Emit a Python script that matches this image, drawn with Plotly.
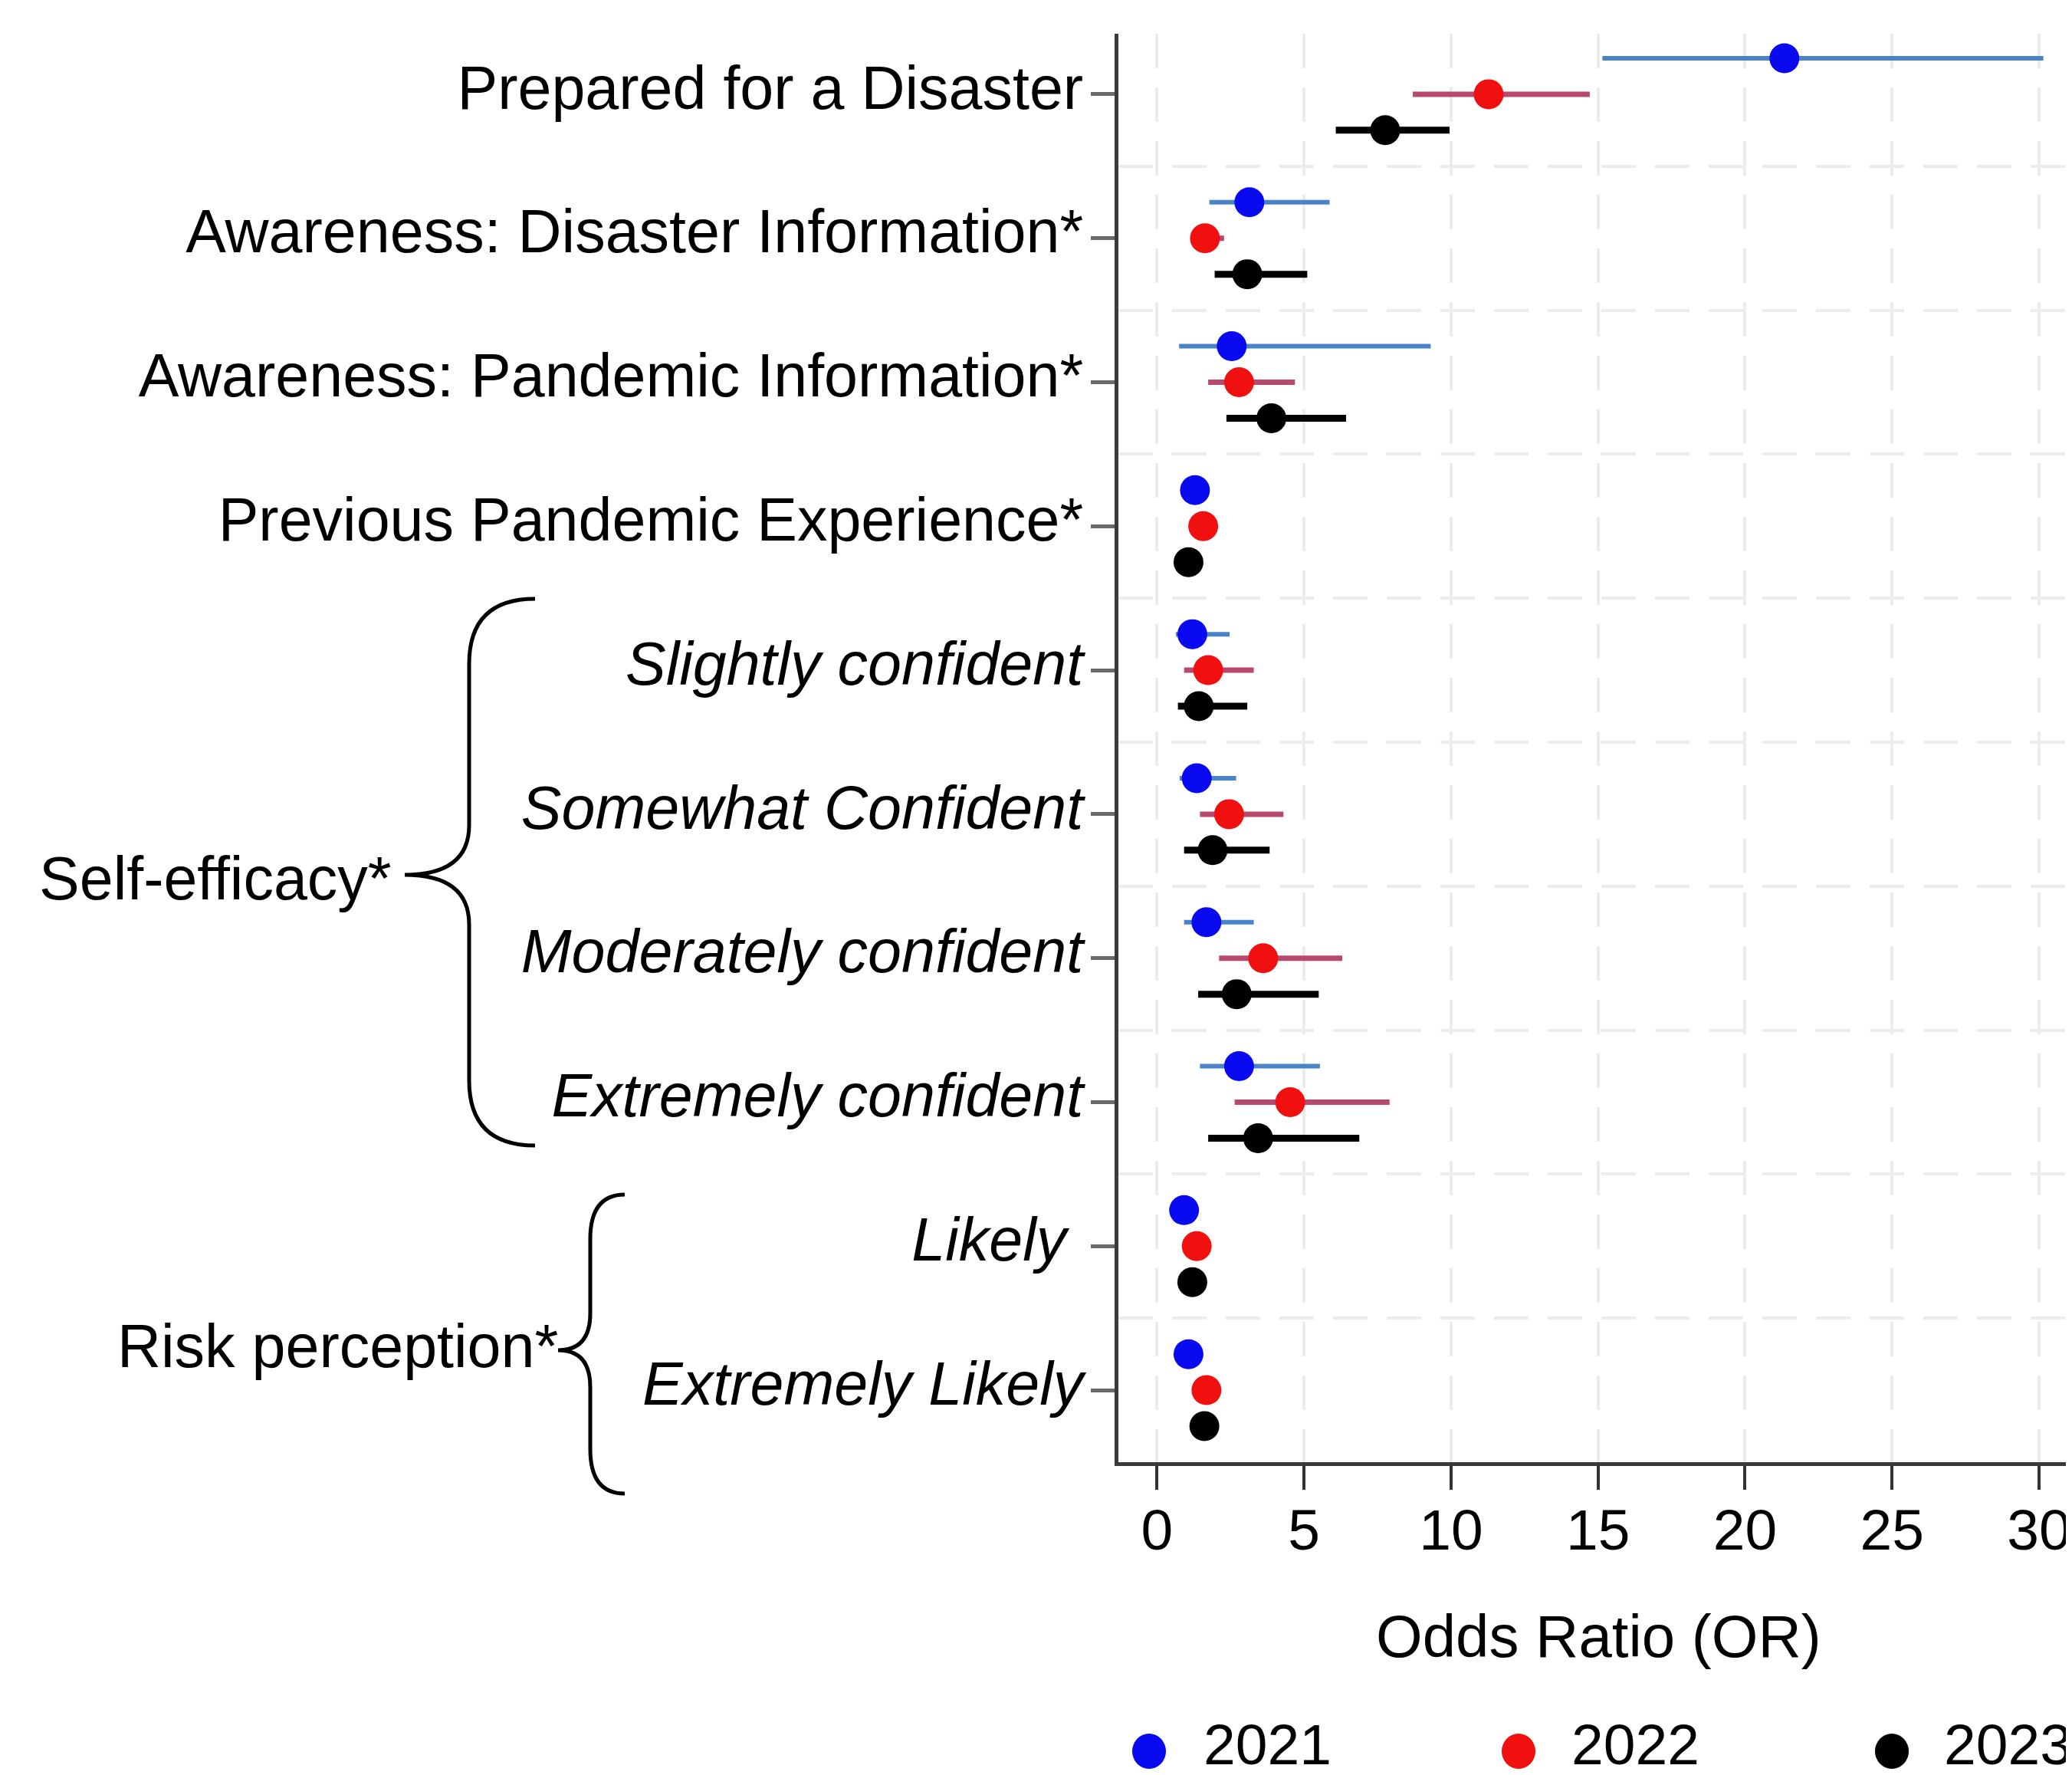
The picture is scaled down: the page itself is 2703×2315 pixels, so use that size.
import plotly.graph_objects as go

# ---------------- data ----------------
categories = [
    "Prepared for a Disaster",
    "Awareness: Disaster Information*",
    "Awareness: Pandemic Information*",
    "Previous Pandemic Experience*",
    "<i>Slightly confident</i>",
    "<i>Somewhat Confident</i>",
    "<i>Moderately confident</i>",
    "<i>Extremely confident</i>",
    "<i>Likely </i>",
    "<i>Extremely Likely</i>",
]
years = ["2021", "2022", "2023"]

or_2021 = [21.34, 3.14, 2.54, 1.29, 1.20, 1.35, 1.68, 2.79, 0.92, 1.07]
lo_2021 = [15.15, 1.78, 0.75, 1.05, 0.64, 0.77, 0.92, 1.46, 0.80, 0.90]
hi_2021 = [30.15, 5.87, 9.31, 1.55, 2.47, 2.69, 3.29, 5.54, 1.05, 1.25]

or_2022 = [11.28, 1.63, 2.79, 1.57, 1.74, 2.45, 3.61, 4.53, 1.35, 1.68]
lo_2022 = [8.70, 1.25, 1.74, 1.30, 0.92, 1.46, 2.11, 2.64, 1.15, 1.45]
hi_2022 = [14.72, 2.28, 4.69, 1.85, 3.29, 4.30, 6.30, 7.91, 1.55, 1.90]

or_2023 = [7.76, 3.07, 3.89, 1.07, 1.42, 1.89, 2.71, 3.44, 1.20, 1.61]
lo_2023 = [6.08, 1.96, 2.36, 0.85, 0.71, 0.92, 1.40, 1.74, 1.00, 1.40]
hi_2023 = [9.95, 5.11, 6.43, 1.30, 3.07, 3.83, 5.50, 6.88, 1.40, 1.85]

x_ticks = [0, 5, 10, 15, 20, 25, 30]
group_labels = ["Self-efficacy*", "Risk perception*"]

# ---------------- styling ----------------
FONT = "Liberation Sans, Arial, sans-serif"
W, H = 2703, 2315
L, R, T, B = 1451, 2703, 36, 1899
PW, PH = R - L, B - T
X0_PX, PX_PER_UNIT = 1501.4, 38.35

def X(p):
    return (p - L) / PW

def Y(p):
    return (B - p) / PH

series = [
    dict(name=years[0], o=or_2021, lo=lo_2021, hi=hi_2021, off=-0.25,
         mcol="#0a0af0", lcol="#4a84c8", lw=6),
    dict(name=years[1], o=or_2022, lo=lo_2022, hi=hi_2022, off=0.0,
         mcol="#f01010", lcol="#b8486e", lw=7),
    dict(name=years[2], o=or_2023, lo=lo_2023, hi=hi_2023, off=0.25,
         mcol="#000000", lcol="#000000", lw=9),
]

fig = go.Figure()
for s in series:
    ys = [i + s["off"] for i in range(len(categories))]
    fig.add_trace(go.Scatter(
        x=s["o"], y=ys, mode="markers", name=s["name"], showlegend=False,
        marker=dict(size=39, color=s["mcol"], line=dict(width=0)),
        error_x=dict(type="data", symmetric=False,
                     array=[h - o for h, o in zip(s["hi"], s["o"])],
                     arrayminus=[o - l for o, l in zip(s["o"], s["lo"])],
                     color=s["lcol"], thickness=s["lw"], width=0),
    ))

fig.update_layout(
    width=W, height=H,
    margin=dict(l=L, r=W - R, t=T, b=H - B, autoexpand=False),
    paper_bgcolor="white", plot_bgcolor="white",
    font=dict(family=FONT, color="black"),
)

GRID = "#ececec"
fig.update_xaxes(
    range=[(L - X0_PX) / PX_PER_UNIT, (R - X0_PX) / PX_PER_UNIT],
    tickvals=x_ticks, ticktext=[str(v) for v in x_ticks],
    tickfont=dict(size=75, family=FONT, color="black"),
    ticks="outside", ticklen=31, tickwidth=4, tickcolor="#333333",
    showline=True, linecolor="#3a3a3a", linewidth=5,
    showgrid=True, gridcolor=GRID, gridwidth=4, griddash="45px,25px",
    zeroline=False, ticklabelstandoff=-12, ticklabeloverflow="allow",
)
fig.update_yaxes(
    range=[9.5, -0.42],
    tickvals=list(range(len(categories))), ticktext=categories,
    tickfont=dict(size=79, family=FONT, color="black"),
    ticks="outside", ticklen=31, tickwidth=5, tickcolor="#6a6a6a",
    showline=True, linecolor="#3a3a3a", linewidth=5,
    showgrid=False, zeroline=False,
    minor=dict(tickvals=[i + 0.5 for i in range(len(categories) - 1)],
               showgrid=True, gridcolor=GRID, gridwidth=4,
               griddash="45px,25px", ticks=""),
    ticklabelstandoff=-6, ticklabelshift=9,
)

# x-axis title
fig.add_annotation(text="Odds Ratio (OR)", xref="paper", yref="paper",
                   x=X(2077), y=Y(2126), xanchor="center", yanchor="middle",
                   showarrow=False, font=dict(size=78, family=FONT, color="black"))

# braces
def brace(x_end, x_v, x_tip, y_top, y_mid, y_bot, r_end, r_mid):
    p = []
    p.append(f"M {X(x_end)},{Y(y_top)}")
    p.append(f"Q {X(x_v)},{Y(y_top)} {X(x_v)},{Y(y_top + r_end)}")
    p.append(f"L {X(x_v)},{Y(y_mid - r_mid)}")
    p.append(f"Q {X(x_v)},{Y(y_mid)} {X(x_tip)},{Y(y_mid)}")
    p.append(f"Q {X(x_v)},{Y(y_mid)} {X(x_v)},{Y(y_mid + r_mid)}")
    p.append(f"L {X(x_v)},{Y(y_bot - r_end)}")
    p.append(f"Q {X(x_v)},{Y(y_bot)} {X(x_end)},{Y(y_bot)}")
    return " ".join(p)

fig.add_shape(type="path", xref="paper", yref="paper",
              path=brace(690, 604, 520, 773, 1133, 1486, 85, 65),
              line=dict(color="black", width=5))
fig.add_shape(type="path", xref="paper", yref="paper",
              path=brace(807, 762, 720, 1550, 1753, 1940, 58, 48),
              line=dict(color="black", width=5))

fig.add_annotation(text=group_labels[0], xref="paper", yref="paper",
                   x=X(505), y=Y(1137), xanchor="right", yanchor="middle",
                   showarrow=False, font=dict(size=79, family=FONT, color="black"))
fig.add_annotation(text=group_labels[1], xref="paper", yref="paper",
                   x=X(722), y=Y(1747), xanchor="right", yanchor="middle",
                   showarrow=False, font=dict(size=79, family=FONT, color="black"))

# legend (manual, large symbols)
legend_dot_x = [1491, 1973, 2460]
legend_txt_x = [1560, 2040, 2526]
for s, dx, tx in zip(series, legend_dot_x, legend_txt_x):
    fig.add_shape(type="circle", xref="paper", yref="paper",
                  xsizemode="pixel", ysizemode="pixel",
                  xanchor=X(dx), yanchor=Y(2276),
                  x0=-22, x1=22, y0=-23, y1=23,
                  fillcolor=s["mcol"], line=dict(width=0))
    fig.add_annotation(text=s["name"], xref="paper", yref="paper",
                       x=X(tx), y=Y(2267), xanchor="left", yanchor="middle",
                       showarrow=False,
                       font=dict(size=75, family=FONT, color="black"))

fig.write_html("out.html")
